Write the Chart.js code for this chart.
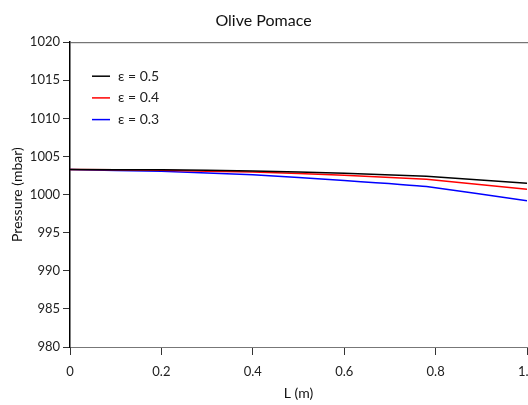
<!DOCTYPE html>
<html>
<head>
<meta charset="utf-8">
<script src="https://cdn.jsdelivr.net/npm/chart.js@4"></script>
<style>
  html, body { margin: 0; padding: 0; overflow: hidden; background: #fff; }
  #wrap { width: 538px; height: 405px; }
</style>
</head>
<body>
<div id="wrap"><canvas id="chart" width="538" height="405"></canvas></div>
<script>
const lengths = [0, 0.2, 0.4, 0.6, 0.78, 1];
const eps05 = [1003.3, 1003.25, 1003.1, 1002.8, 1002.4, 1001.5];
const eps04 = [1003.3, 1003.2, 1002.95, 1002.55, 1002.0, 1000.7];
const eps03 = [1003.3, 1003.05, 1002.6, 1001.85, 1001.05, 999.2];
const seriesLabels = ["ε = 0.5", "ε = 0.4", "ε = 0.3"];
const seriesColors = ["#000000", "#ff0000", "#0000ff"];

const font = "Lato, 'Open Sans', sans-serif";

function toPoints(ys) {
  return lengths.map((x, i) => ({ x: x, y: ys[i] }));
}

// legend drawn inside the plot, top left
const insideLegend = {
  id: "insideLegend",
  afterDatasetsDraw(chart) {
    const c = chart.ctx;
    const a = chart.chartArea;
    c.save();
    c.font = "14px " + font;
    c.textBaseline = "middle";
    chart.data.datasets.forEach((ds, i) => {
      const y = a.top + 34 + i * 21.7;
      c.strokeStyle = ds.borderColor;
      c.lineWidth = 1.5;
      c.beginPath();
      c.moveTo(a.left + 22, y);
      c.lineTo(a.left + 40, y);
      c.stroke();
      c.fillStyle = "#222";
      c.fillText(ds.label, a.left + 48, y);
    });
    c.restore();
  }
};

// top border of the box
const topBorder = {
  id: "topBorder",
  afterDraw(chart) {
    const c = chart.ctx;
    const a = chart.chartArea;
    c.save();
    c.strokeStyle = "#555";
    c.lineWidth = 1;
    c.beginPath();
    c.moveTo(a.left, a.top + 0.5);
    c.lineTo(a.right + 1, a.top + 0.5);
    c.stroke();
    c.restore();
  }
};

new Chart(document.getElementById("chart"), {
  type: "line",
  data: {
    datasets: [
      { label: seriesLabels[0], data: toPoints(eps05), borderColor: seriesColors[0] },
      { label: seriesLabels[1], data: toPoints(eps04), borderColor: seriesColors[1] },
      { label: seriesLabels[2], data: toPoints(eps03), borderColor: seriesColors[2] }
    ]
  },
  options: {
    responsive: false,
    animation: false,
    layout: { padding: { left: 0, right: 11, top: 0, bottom: 0 } },
    elements: {
      point: { radius: 0 },
      line: { borderWidth: 1.5, tension: 0.1, fill: false }
    },
    plugins: {
      legend: { display: false },
      tooltip: { enabled: false },
      title: {
        display: true,
        text: "Olive Pomace",
        color: "#111",
        font: { family: font, size: 16, weight: "normal" },
        padding: { top: 11, bottom: 12 }
      }
    },
    scales: {
      x: {
        type: "linear",
        min: 0,
        max: 1,
        ticks: { stepSize: 0.2, color: "#222", font: { family: font, size: 13 }, padding: 9 },
        grid: { drawOnChartArea: false, tickLength: 8, color: "#333" },
        border: { color: "#777", width: 1 },
        title: { display: true, text: "L (m)", color: "#111", font: { family: font, size: 14 }, padding: { top: 0, bottom: 3 } },
        afterFit(s) { s.height = 58; s.paddingLeft = 0; s.paddingRight = 0; }
      },
      y: {
        min: 980,
        max: 1020,
        ticks: {
          stepSize: 5, color: "#222", font: { family: font, size: 13 }, padding: 3,
          callback: v => String(v)
        },
        grid: { drawOnChartArea: false, tickLength: 7, color: "#333" },
        border: { color: "#000", width: 1.5 },
        title: { display: true, text: "Pressure (mbar)", color: "#111", font: { family: font, size: 14 }, padding: { top: 9, bottom: 0 } },
        afterFit(s) { s.width = 70; }
      }
    }
  },
  plugins: [insideLegend, topBorder]
});
</script>
</body>
</html>
